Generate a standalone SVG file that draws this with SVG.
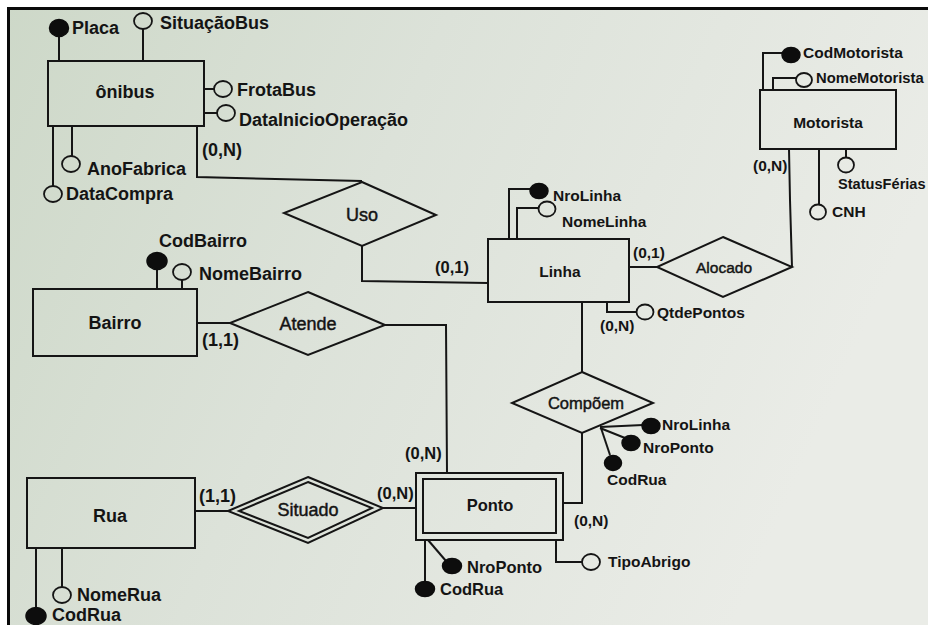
<svg xmlns="http://www.w3.org/2000/svg" width="928" height="625" viewBox="0 0 928 625">
<style>
  text { font-family: "Liberation Sans", Arial, sans-serif; fill: #141414; }
  .b { font-weight: bold; }
  .r { font-weight: normal; stroke: #141414; stroke-width: 0.45px; }
  .L { font-size: 18px; }
  .M { font-size: 16.5px; }
  .S { font-size: 15.5px; }
  .mid { text-anchor: middle; }
  .shape { fill: none; stroke: #151515; stroke-width: 2; }
  .ln { fill: none; stroke: #151515; stroke-width: 2; }
  .key { fill: #0d0d0d; stroke: #0d0d0d; stroke-width: 1.5; }
  .opt { fill: none; stroke: #151515; stroke-width: 1.8; }
</style>
<defs>
  <linearGradient id="bg" x1="0" y1="0" x2="1" y2="0.3">
    <stop offset="0" stop-color="#cdd8c8"/>
    <stop offset="0.45" stop-color="#dce2d9"/>
    <stop offset="1" stop-color="#eaece7"/>
  </linearGradient>
</defs>
<rect x="0" y="0" width="928" height="625" fill="url(#bg)"/>
<rect x="0" y="0" width="8" height="625" fill="#ffffff"/>
<rect x="0" y="0" width="928" height="7" fill="#ffffff"/>
<rect x="8.5" y="8.5" width="940" height="640" fill="none" stroke="#0a0a0a" stroke-width="3"/>

<g id="connectors">
  <polyline class="ln" points="197,126 197,177 362,181"/>
  <polyline class="ln" points="362,246 362,281 488,283"/>
  <line class="ln" x1="629" y1="267" x2="657" y2="267"/>
  <polyline class="ln" points="789,149 790,200 792,267"/>
  <line class="ln" x1="197" y1="323" x2="230" y2="323"/>
  <polyline class="ln" points="385,325 446,325 447,473"/>
  <line class="ln" x1="582" y1="302" x2="582" y2="372"/>
  <polyline class="ln" points="582,433 582,503 563,503"/>
  <line class="ln" x1="195" y1="511" x2="228" y2="511"/>
  <line class="ln" x1="383" y1="508" x2="416" y2="508"/>
  <line class="ln" x1="59" y1="61" x2="59" y2="36"/>
  <line class="ln" x1="143" y1="61" x2="143" y2="29"/>
  <line class="ln" x1="204" y1="89" x2="214" y2="89"/>
  <line class="ln" x1="204" y1="113" x2="217" y2="113"/>
  <line class="ln" x1="72" y1="126" x2="72" y2="156"/>
  <line class="ln" x1="53" y1="126" x2="53" y2="186"/>
  <line class="ln" x1="157" y1="289" x2="157" y2="269"/>
  <line class="ln" x1="182" y1="289" x2="182" y2="280"/>
  <polyline class="ln" points="509,239 509,189 531,189"/>
  <polyline class="ln" points="517,239 517,208 539,208"/>
  <polyline class="ln" points="607,302 607,312 637,312"/>
  <polyline class="ln" points="763,90 763,53 783,53"/>
  <polyline class="ln" points="773,90 773,78 796,78"/>
  <line class="ln" x1="846" y1="149" x2="846" y2="157"/>
  <line class="ln" x1="819" y1="149" x2="819" y2="204"/>
  <line class="ln" x1="600" y1="427" x2="643" y2="425"/>
  <line class="ln" x1="600" y1="428" x2="625" y2="438"/>
  <line class="ln" x1="601" y1="428" x2="610" y2="455"/>
  <line class="ln" x1="428" y1="540" x2="446" y2="561"/>
  <line class="ln" x1="425" y1="540" x2="425" y2="582"/>
  <polyline class="ln" points="556,540 556,562 582,562"/>
  <line class="ln" x1="62" y1="548" x2="62" y2="588"/>
  <line class="ln" x1="36" y1="548" x2="36" y2="610"/>
</g>

<g id="onibus">
  <rect class="shape" x="48" y="61" width="156" height="65"/>
  <text class="b L mid" x="125" y="98">ônibus</text>
</g>
<g id="bairro">
  <rect class="shape" x="33" y="289" width="164" height="67"/>
  <text class="b L mid" x="115" y="329">Bairro</text>
</g>
<g id="rua">
  <rect class="shape" x="27" y="478" width="168" height="70"/>
  <text class="b L mid" x="110" y="522">Rua</text>
</g>
<g id="linha">
  <rect class="shape" x="488" y="239" width="141" height="63"/>
  <text class="b S mid" x="560" y="277">Linha</text>
</g>
<g id="motorista">
  <rect class="shape" x="760" y="90" width="136" height="59"/>
  <text class="b S mid" x="828" y="128">Motorista</text>
</g>
<g id="ponto">
  <rect class="shape" x="416" y="473" width="147" height="67"/>
  <rect class="shape" x="423" y="479" width="133" height="54"/>
  <text class="b M mid" x="490" y="511">Ponto</text>
</g>

<g id="uso">
  <polygon class="shape" points="362,182 436,215 362,246 284,213"/>
  <text class="r L mid" x="362" y="221">Uso</text>
</g>
<g id="alocado">
  <polygon class="shape" points="723,237 792,267 723,297 657,267"/>
  <text class="r S mid" x="724" y="273">Alocado</text>
</g>
<g id="atende">
  <polygon class="shape" points="308,292 385,325 308,355 230,323"/>
  <text class="r L mid" x="308" y="330">Atende</text>
</g>
<g id="compoem">
  <polygon class="shape" points="582,372 653,403 582,433 512,403"/>
  <text class="r M mid" x="586" y="409">Compõem</text>
</g>
<g id="situado">
  <polygon class="shape" points="308,477 383,508 308,543 228,511"/>
  <polygon class="shape" points="308,482 372,508 308,538 239,511"/>
  <text class="r L mid" x="308" y="516">Situado</text>
</g>

<g id="attr-placa"><ellipse class="key" cx="59" cy="28" rx="9.5" ry="8.5"/><text class="b L" x="72" y="34">Placa</text></g>
<g id="attr-situacaobus"><ellipse class="opt" cx="143" cy="21" rx="9" ry="8"/><text class="b L" x="160" y="29">SituaçãoBus</text></g>
<g id="attr-frotabus"><ellipse class="opt" cx="223" cy="89" rx="9" ry="8"/><text class="b L" x="237" y="96">FrotaBus</text></g>
<g id="attr-datainicio"><ellipse class="opt" cx="226" cy="113" rx="9" ry="8"/><text class="b L" x="239" y="126">DataInicioOperação</text></g>
<g id="attr-anofabrica"><ellipse class="opt" cx="71" cy="164" rx="9" ry="8"/><text class="b L" x="87" y="175">AnoFabrica</text></g>
<g id="attr-datacompra"><ellipse class="opt" cx="53" cy="194" rx="9" ry="8"/><text class="b L" x="66" y="200">DataCompra</text></g>
<g id="attr-codbairro"><ellipse class="key" cx="157" cy="261" rx="10" ry="8.5"/><text class="b L" x="159" y="247">CodBairro</text></g>
<g id="attr-nomebairro"><ellipse class="opt" cx="182" cy="272" rx="9" ry="8"/><text class="b L" x="199" y="280">NomeBairro</text></g>
<g id="attr-nrolinha"><ellipse class="key" cx="539" cy="191" rx="9" ry="7.5"/><text class="b S" x="553" y="201">NroLinha</text></g>
<g id="attr-nomelinha"><ellipse class="opt" cx="547" cy="209" rx="8.5" ry="7.5"/><text class="b S" x="562" y="227">NomeLinha</text></g>
<g id="attr-qtdepontos"><ellipse class="opt" cx="645" cy="312" rx="8.5" ry="7.5"/><text class="b S" x="657" y="318">QtdePontos</text></g>
<g id="attr-codmotorista"><ellipse class="key" cx="791" cy="55" rx="9" ry="7.5"/><text class="b S" x="803" y="58">CodMotorista</text></g>
<g id="attr-nomemotorista"><ellipse class="opt" cx="804" cy="80" rx="8" ry="7"/><text class="b" style="font-size:14.8px" x="816" y="83">NomeMotorista</text></g>
<g id="attr-statusferias"><ellipse class="opt" cx="846" cy="165" rx="8" ry="7.5"/><text class="b" style="font-size:14.6px" x="838" y="189">StatusFérias</text></g>
<g id="attr-cnh"><ellipse class="opt" cx="818" cy="212" rx="8" ry="7.5"/><text class="b S" x="832" y="217">CNH</text></g>
<g id="attr-c-nrolinha"><ellipse class="key" cx="651" cy="426" rx="9" ry="7.5"/><text class="b S" x="662" y="430">NroLinha</text></g>
<g id="attr-c-nroponto"><ellipse class="key" cx="631" cy="443" rx="9" ry="7.5"/><text class="b S" x="643" y="453">NroPonto</text></g>
<g id="attr-c-codrua"><ellipse class="key" cx="613" cy="463" rx="8.5" ry="7.5"/><text class="b S" x="607" y="485">CodRua</text></g>
<g id="attr-p-nroponto"><ellipse class="key" cx="452" cy="566" rx="9.5" ry="7.5"/><text class="b M" x="467" y="573">NroPonto</text></g>
<g id="attr-p-codrua"><ellipse class="key" cx="425" cy="589" rx="9.5" ry="7.5"/><text class="b M" x="440" y="595">CodRua</text></g>
<g id="attr-tipoabrigo"><ellipse class="opt" cx="591" cy="562" rx="9" ry="8"/><text class="b S" x="608" y="567">TipoAbrigo</text></g>
<g id="attr-nomerua"><ellipse class="opt" cx="62" cy="595" rx="9" ry="8"/><text class="b L" x="77" y="601">NomeRua</text></g>
<g id="attr-codrua"><ellipse class="key" cx="36" cy="616" rx="10" ry="8.5"/><text class="b L" x="52" y="621">CodRua</text></g>

<g id="cardinalities">
  <text class="b L" x="202" y="156">(0,N)</text>
  <text class="b M" x="435" y="273">(0,1)</text>
  <text class="b S" x="633" y="258">(0,1)</text>
  <text class="b S" x="753" y="171">(0,N)</text>
  <text class="b S" x="600" y="331">(0,N)</text>
  <text class="b L" x="202" y="346">(1,1)</text>
  <text class="b M" x="405" y="459">(0,N)</text>
  <text class="b M" x="377" y="499">(0,N)</text>
  <text class="b S" x="574" y="526">(0,N)</text>
  <text class="b L" x="199" y="502">(1,1)</text>
</g>
</svg>
